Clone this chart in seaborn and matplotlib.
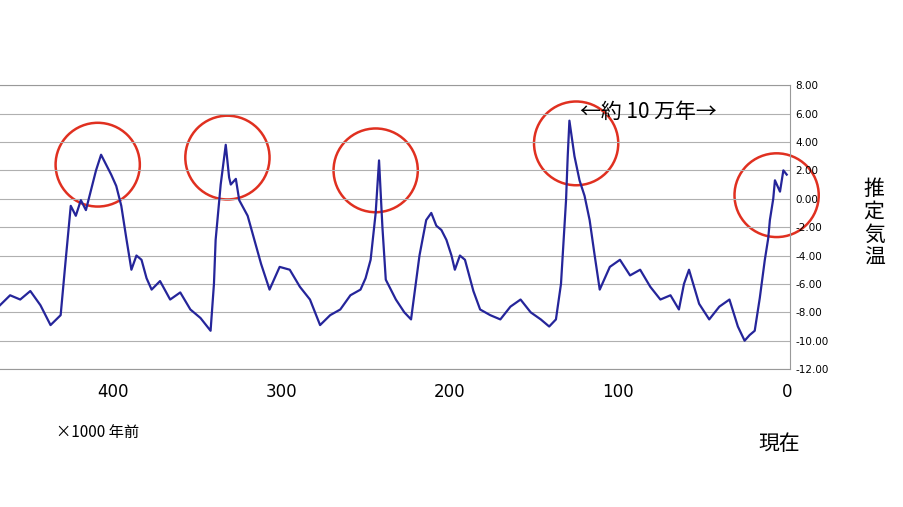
import matplotlib
matplotlib.use("Agg")
import matplotlib.pyplot as plt
import seaborn as sns
import pandas as pd
from matplotlib.patches import Ellipse

age_kyr = [467,461,455,449,443,437,431,428,425,422,419,416,413,410,407,404,401,398,395,392,389,386,383,380,377,372,366,360,354,348,342,340,339,336,333,331,330,327,325,320,316,312,307,301,295,289,283,280,277,271,265,259,253,250,247,244,242,240,238,235,232,227,223,218,214,211,208,205,202,199,197,194,191,186,182,176,170,164,158,152,146,141,137,134,131,130,129,126,123,120,117,114,111,105,99,93,87,81,75,69,64,61,58,52,46,40,34,29,25,22,19,16,13,11,10,8,7,4,2,0]
temp = [-7.5,-6.8,-7.1,-6.5,-7.5,-8.9,-8.2,-4.3,-0.5,-1.2,-0.1,-0.8,0.6,2.0,3.1,2.4,1.7,0.9,-0.5,-2.8,-5.0,-4.0,-4.3,-5.6,-6.4,-5.8,-7.1,-6.6,-7.8,-8.4,-9.3,-6.0,-2.9,1.0,3.8,1.5,1.0,1.4,-0.1,-1.2,-2.9,-4.6,-6.4,-4.8,-5.0,-6.2,-7.1,-8.0,-8.9,-8.2,-7.8,-6.8,-6.4,-5.6,-4.3,-1.0,2.7,-2.0,-5.7,-6.4,-7.1,-8.0,-8.5,-4.0,-1.5,-1.0,-1.9,-2.2,-2.9,-4.0,-5.0,-4.0,-4.3,-6.5,-7.8,-8.2,-8.5,-7.6,-7.1,-8.0,-8.5,-9.0,-8.5,-6.0,-0.1,3.0,5.5,3.0,1.3,0.2,-1.5,-4.0,-6.4,-4.8,-4.3,-5.4,-5.0,-6.2,-7.1,-6.8,-7.8,-6.0,-5.0,-7.4,-8.5,-7.6,-7.1,-9.0,-10.0,-9.6,-9.3,-7.0,-4.3,-2.8,-1.5,0.0,1.3,0.5,2.0,1.7]
df = pd.DataFrame({"age": age_kyr, "temp": temp})

circles = [(409, 2.4), (332, 2.9), (244, 2.0), (125, 3.9), (6, 0.25)]

fig = plt.figure(figsize=(9.04, 5.07), dpi=100)
ax = fig.add_axes([0.0, 0.272, 0.874, 0.560])
plt.rcParams['font.family'] = ['Noto Sans CJK JP', 'DejaVu Sans']
sns.lineplot(data=df, x="age", y="temp", ax=ax, color="#25259a", linewidth=1.6)
ax.set_xlim(467, -2)
ax.set_ylim(-12, 8)
ax.set_yticks(range(-12, 9, 2))
ax.set_yticklabels([f"{v:.2f}" for v in range(-12, 9, 2)], fontsize=7.5)
ax.yaxis.tick_right()
ax.tick_params(axis="y", length=0, pad=4)
ax.set_xticks([400, 300, 200, 100, 0])
ax.set_xticklabels(["400", "300", "200", "100", "0"], fontsize=12)
ax.tick_params(axis="x", length=0, pad=10)
ax.grid(axis="y", color="#b0b0b0", linewidth=0.8)
for s in ax.spines.values():
    s.set_color("#999999")
ax.spines["left"].set_visible(False)
ax.set_xlabel(""); ax.set_ylabel("")
for cx, cy in circles:
    ax.add_patch(Ellipse((cx, cy), 50, 5.9, fill=False, edgecolor="#e03020", linewidth=1.8, clip_on=False))
ax.text(123, 6.1, "←約 10 万年→", fontsize=15, ha="left", va="center",
        family=['Noto Sans CJK JP', 'DejaVu Sans'])
fig.text(0.062, 0.138, "×1000 年前", fontsize=11, family=['Noto Sans CJK JP', 'DejaVu Sans'])
fig.text(0.862, 0.112, "現在", fontsize=15, ha="center", family=['Noto Sans CJK JP', 'DejaVu Sans'])
fig.text(0.967, 0.56, "推\n定\n気\n温", fontsize=15, ha="center", va="center", linespacing=1.05,
         family=['Noto Sans CJK JP', 'DejaVu Sans'])
fig.savefig("out.png", dpi=100)
